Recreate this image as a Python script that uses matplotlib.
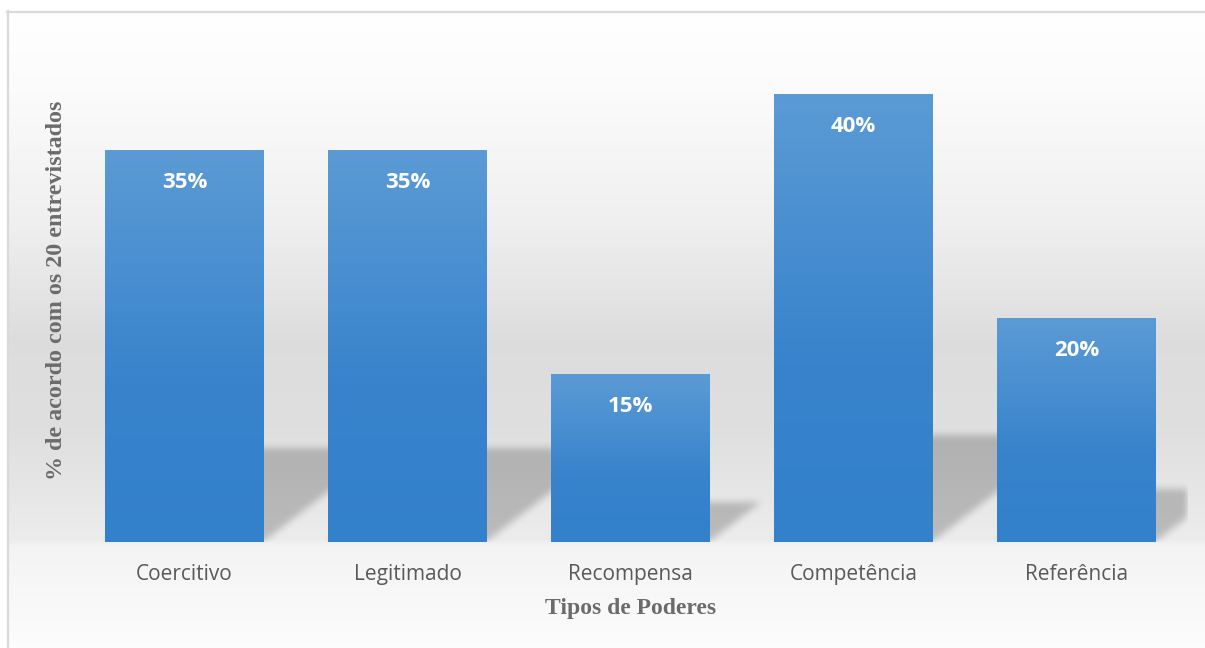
import numpy as np
import matplotlib
matplotlib.use("Agg")
import matplotlib.pyplot as plt
from matplotlib.colors import LinearSegmentedColormap

# ====== データ ======
categories = ["Coercitivo", "Legitimado", "Recompensa", "Competência", "Referência"]
values = [0.35, 0.35, 0.15, 0.40, 0.20]
labels = ["35%", "35%", "15%", "40%", "20%"]
xlabel = "Tipos de Poderes"
ylabel = "% de acordo com os 20 entrevistados"

# ====== 図 ======
fig = plt.figure(figsize=(12.05, 6.48), dpi=100, facecolor="white")

# 背景グラデーション（ピクセル座標）
bg = fig.add_axes([0, 0, 1, 1], zorder=-2)
bg.set_xlim(0, 1205)
bg.set_ylim(648, 0)
bg.axis("off")
stops_y = [12, 90, 220, 340, 430, 538, 546, 648]
stops_g = [1.0, 0.985, 0.94, 0.865, 0.875, 0.925, 0.955, 0.99]
rows = np.arange(12, 648)
grey = np.interp(rows, stops_y, stops_g)
grad = np.repeat(grey[:, None], 2, axis=1)
grad = np.dstack([grad, grad, grad])
bg.imshow(grad, extent=(8, 1205, 648, 12), aspect="auto", interpolation="bilinear")
bg.plot([8, 8], [11, 648], color="#d9d9d9", lw=1.6)
bg.plot([7, 1205], [11.5, 11.5], color="#d9d9d9", lw=1.6)

# ====== メイン軸 ======
ax = fig.add_axes([73 / 1205, 106 / 648, 1115 / 1205, 504 / 648])
ax.patch.set_alpha(0)
x = np.arange(len(categories))
width = 0.713
ymax = 0.45

# 影（パース付き、ぼかし）
W, H = 1115, 504
px_x = 1115 / 5.0
px_y = H / ymax
mask = np.zeros((H, W))
for xi, v in zip(x, values):
    left = (xi - width / 2 + 0.5) * px_x
    right = (xi + width / 2 + 0.5) * px_x
    sh = int(v * px_y * 0.24)
    for t in range(sh):
        r = H - 1 - t
        a = int(left + 1.3 * t)
        b = int(right + 1.3 * t)
        mask[r, max(a, 0):min(b, W)] = 1.0


def box_blur(m, rad, n=3):
    k = np.ones(2 * rad + 1) / (2 * rad + 1)
    for _ in range(n):
        m = np.apply_along_axis(lambda r: np.convolve(r, k, mode="same"), 1, m)
        m = np.apply_along_axis(lambda c: np.convolve(c, k, mode="same"), 0, m)
    return m


mask = box_blur(mask, 3)
shadow = np.zeros((H, W, 4))
shadow[..., 3] = mask * 0.21
ax.imshow(shadow, extent=(-0.5, 4.5, 0, ymax), aspect="auto", zorder=1,
          interpolation="bilinear")

# 棒（グラデーション）
cmap = LinearSegmentedColormap.from_list(
    "bar", [(0.0, "#3380cb"), (0.4, "#3883cc"), (1.0, "#5b9bd5")])
bars = ax.bar(x, values, width=width, color="none", zorder=2)
g = np.linspace(0, 1, 256)[:, None]
for b in bars:
    ax.imshow(g, extent=(b.get_x(), b.get_x() + b.get_width(), 0, b.get_height()),
              origin="lower", aspect="auto", cmap=cmap, zorder=2)

for xi, v, lab in zip(x, values, labels):
    ax.annotate(lab, (xi, v), xytext=(0, -23.5), textcoords="offset points",
                ha="center", va="center", color="white", fontsize=16,
                fontweight="bold", family="Open Sans", zorder=3)

ax.set_xlim(-0.5, 4.5)
ax.set_ylim(0, ymax)
ax.set_xticks(x)
ax.set_xticklabels(categories, family="Open Sans", fontsize=15, color="#595959")
ax.tick_params(axis="x", length=0, pad=15.5)
ax.set_yticks([])
for s in ax.spines.values():
    s.set_visible(False)

ax.set_xlabel(xlabel, family="Liberation Serif", fontweight="bold", fontsize=17,
              color="#6b6b6b", labelpad=10)
ax.set_ylabel(ylabel, family="Liberation Serif", fontweight="bold", fontsize=17.3,
              color="#6b6b6b")
ax.yaxis.set_label_coords(-6 / 1115, (648 - 290 - 106) / 504)

fig.savefig("out.png", dpi=100)
